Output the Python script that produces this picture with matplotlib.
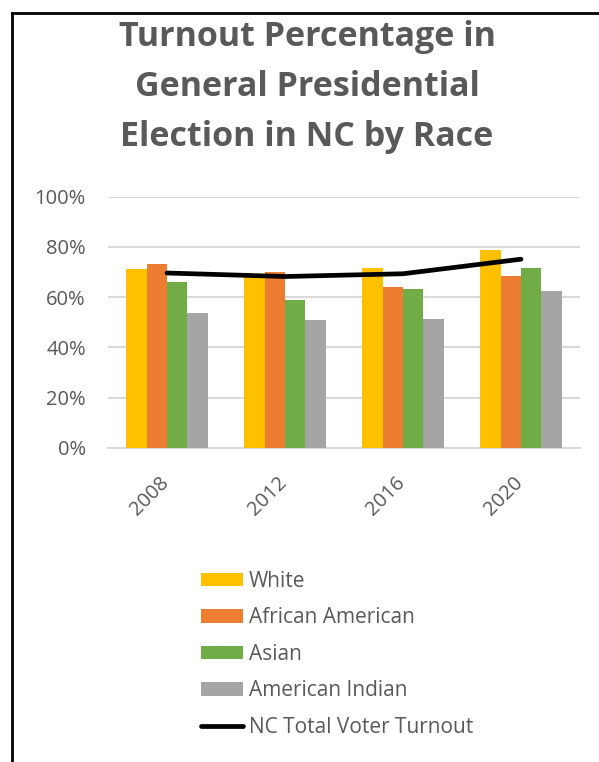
import matplotlib.pyplot as plt
import matplotlib.transforms as mtransforms
import numpy as np
from matplotlib.lines import Line2D
from matplotlib.patches import Patch

# data
years = ['2008', '2012', '2016', '2020']
white = [71.3, 68.8, 71.7, 78.6]
african_american = [73.0, 70.1, 64.2, 68.4]
asian = [66.2, 58.9, 63.4, 71.7]
american_indian = [53.6, 50.8, 51.2, 62.6]
nc_total = [69.6, 68.2, 69.3, 75.1]

series_names = ['White', 'African American', 'Asian', 'American Indian']
series_vals = [white, african_american, asian, american_indian]
series_colors = ['#FFC000', '#ED7D31', '#70AD47', '#A5A5A5']
TXT = '#595959'
GRID = '#D9D9D9'

plt.rcParams['font.family'] = ['Open Sans', 'DejaVu Sans']

W, H = 599, 762
fig = plt.figure(figsize=(W / 100, H / 100), dpi=100)
fig.patch.set_facecolor('white')

# axes placed in pixel coords
left, right, top, bottom = 108, 580, 196.7, 447.7
ax = fig.add_axes([left / W, 1 - bottom / H, (right - left) / W, (bottom - top) / H])

x = np.arange(len(years))
bw = 0.172
for i, (vals, col) in enumerate(zip(series_vals, series_colors)):
    ax.bar(x + (i - 1.5) * bw, np.array(vals) / 100, width=bw, color=col, zorder=3)
ax.plot(x, np.array(nc_total) / 100, color='black', linewidth=3.4,
        solid_capstyle='round', zorder=4)

ax.set_xlim(-0.5, len(years) - 0.5)
ax.set_ylim(0, 1)
ticks = np.arange(0, 1.01, 0.2)
ax.set_yticks(ticks)
ax.set_yticklabels([f'{int(round(t * 100))}%' for t in ticks], fontsize=14.5, color=TXT)
ax.yaxis.set_tick_params(length=0, pad=16)
ax.set_xticks(x)
ax.set_xticklabels(years, rotation=45, ha='right', rotation_mode='anchor',
                   fontsize=14.5, color=TXT)
ax.xaxis.set_tick_params(length=0, pad=18)
shift = mtransforms.ScaledTranslation(-8 / 100, 0, fig.dpi_scale_trans)
for lab in ax.get_xticklabels():
    lab.set_transform(lab.get_transform() + shift)
ax.grid(axis='y', color=GRID, linewidth=1.5, zorder=0)
for s in ['top', 'right', 'left']:
    ax.spines[s].set_visible(False)
ax.spines['bottom'].set_color(GRID)
ax.spines['bottom'].set_linewidth(1.5)

# title, three lines
title_lines = ['Turnout Percentage in', 'General Presidential', 'Election in NC by Race']
for k, line in enumerate(title_lines):
    fig.text(307 / W, 1 - (46 + 50 * k) / H, line, ha='center', va='baseline',
             fontsize=24.5, fontweight='bold', color=TXT)

# legend
handles = [Patch(facecolor=c, edgecolor='none') for c in series_colors]
handles.append(Line2D([0], [0], color='black', linewidth=3.4, solid_capstyle='round'))
labels = series_names + ['NC Total Voter Turnout']
fig.legend(handles, labels, loc='upper left', bbox_to_anchor=(201 / W, 1 - 571 / H),
           frameon=False, fontsize=15, labelcolor=TXT, handlelength=2.0,
           handleheight=0.6, handletextpad=0.3, labelspacing=0.74,
           borderpad=0, borderaxespad=0)

# border lines at top and left
fig.add_artist(Line2D([12 / W, 1], [1 - 12.5 / H, 1 - 12.5 / H], color='black',
                      linewidth=2, transform=fig.transFigure))
fig.add_artist(Line2D([12 / W, 12 / W], [0, 1 - 12.5 / H], color='black',
                      linewidth=2, transform=fig.transFigure))

fig.savefig('out.png', dpi=100, facecolor='white')
